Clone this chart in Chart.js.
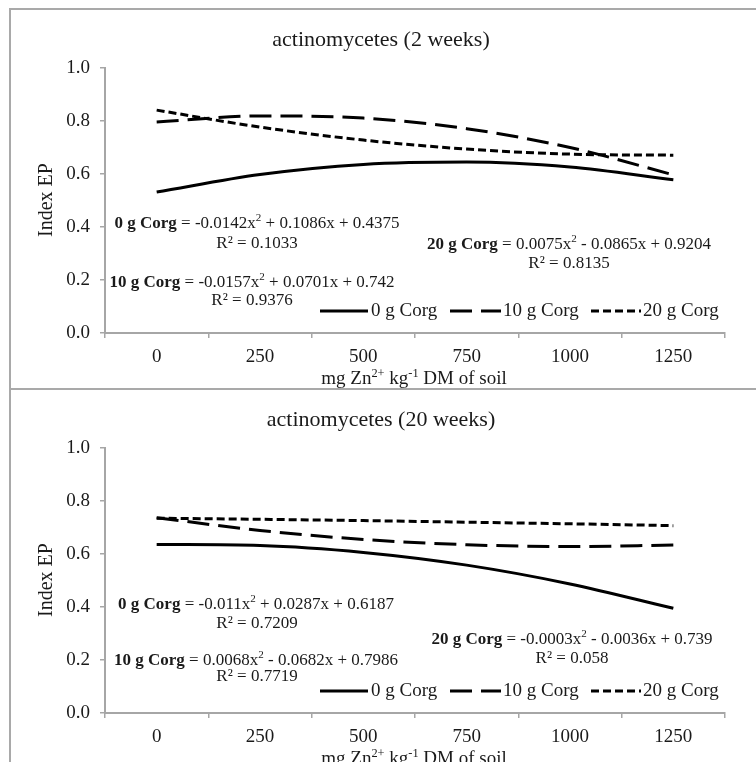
<!DOCTYPE html>
<html>
<head>
<meta charset="utf-8">
<script src="https://cdn.jsdelivr.net/npm/chart.js@4.4.1/dist/chart.umd.min.js"></script>
<style>
  body { margin: 0; background: #fff; overflow: hidden; }
  .panel { position: absolute; left: 9px; width: 747px; height: 378px;
           border-left: 2px solid #a9a9a9; border-top: 2px solid #a9a9a9; }
  #p1 { top: 8px; }
  #p2 { top: 388px; }
  canvas { display: block; }
</style>
</head>
<body>
<div class="panel" id="p1"><canvas id="c1" width="745" height="378"></canvas></div>
<div class="panel" id="p2"><canvas id="c2" width="745" height="378"></canvas></div>

<script>
// doses of zinc, mg Zn2+ per kg DM of soil
const doses = ['0', '250', '500', '750', '1000', '1250'];
const yTicks = [0, 0.2, 0.4, 0.6, 0.8, 1.0];
const seriesNames = ['0 g Corg', '10 g Corg', '20 g Corg'];

// index EP, 2 weeks
const week2Corg0 = [0.532, 0.598, 0.636, 0.645, 0.626, 0.578];
const week2Corg10 = [0.796, 0.819, 0.811, 0.771, 0.700, 0.597];
const week2Corg20 = [0.841, 0.777, 0.728, 0.694, 0.675, 0.671];

// index EP, 20 weeks
const week20Corg0 = [0.636, 0.632, 0.606, 0.558, 0.487, 0.395];
const week20Corg10 = [0.737, 0.689, 0.655, 0.635, 0.628, 0.634];
const week20Corg20 = [0.735, 0.731, 0.726, 0.720, 0.714, 0.707];

// trendline labels
const week2Eqs = [
  '0 g Corg = -0.0142x^2 + 0.1086x + 0.4375', 'R² = 0.1033',
  '10 g Corg = -0.0157x^2 + 0.0701x + 0.742', 'R² = 0.9376',
  '20 g Corg = 0.0075x^2 - 0.0865x + 0.9204', 'R² = 0.8135'
];
const week20Eqs = [
  '0 g Corg = -0.011x^2 + 0.0287x + 0.6187', 'R² = 0.7209',
  '10 g Corg = 0.0068x^2 - 0.0682x + 0.7986', 'R² = 0.7719',
  '20 g Corg = -0.0003x^2 - 0.0036x + 0.739', 'R² = 0.058'
];

const SERIF = "'Liberation Serif', 'Times New Roman', serif";
const TEXT = '#1a1a1a';
const AXIS = '#a6a6a6';
const dashes = [[], [22, 9], [8, 4]];

function fontOf(p, size) {
  const s = p.sup ? size * 0.65 : size;
  return (p.b ? 'bold ' : '') + s + 'px ' + SERIF;
}

// draw a line of mixed text centred at cx, middle at cy
function drawRich(ctx, parts, cx, cy, size) {
  let w = 0;
  parts.forEach(p => { ctx.font = fontOf(p, size); p.w = ctx.measureText(p.t).width; w += p.w; });
  let x = cx - w / 2;
  const base = cy + size * 0.33;
  ctx.textAlign = 'left';
  ctx.textBaseline = 'alphabetic';
  parts.forEach(p => {
    ctx.font = fontOf(p, size);
    ctx.fillText(p.t, x, base - (p.sup ? size * 0.4 : 0));
    x += p.w;
  });
}

function parseEq(str) {
  const parts = [];
  let rest = str;
  const eq = str.indexOf(' = ');
  if (str.startsWith('R')) {
    return [{ t: str }];
  }
  parts.push({ t: str.slice(0, eq), b: true });
  rest = str.slice(eq);
  rest.split('^2').forEach((seg, i) => {
    if (i > 0) parts.push({ t: '2', sup: true });
    parts.push({ t: seg });
  });
  return parts;
}

const overlay = {
  id: 'overlay',
  afterDraw(chart, args, opts) {
    const ctx = chart.ctx;
    ctx.save();
    ctx.fillStyle = TEXT;

    // title
    ctx.font = '22px ' + SERIF;
    ctx.textAlign = 'center';
    ctx.textBaseline = 'middle';
    ctx.fillText(opts.title, 370, 30);

    // y axis title
    ctx.save();
    ctx.translate(36, 190);
    ctx.rotate(-Math.PI / 2);
    ctx.font = '20px ' + SERIF;
    ctx.fillText('Index EP', 0, 0);
    ctx.restore();

    // x axis title
    drawRich(ctx, [{ t: 'mg Zn' }, { t: '2+', sup: true }, { t: ' kg' }, { t: '-1', sup: true }, { t: ' DM of soil' }],
      403, 368, 19);

    // trendline equations
    opts.eqs.forEach((s, i) => {
      const pos = opts.eqPos[i];
      drawRich(ctx, parseEq(s), pos[0], pos[1], 17);
    });

    // legend
    const lg = [[309, 357, 360], [439, 490, 492], [580, 630, 632]];
    const ly = 301;
    lg.forEach((l, i) => {
      ctx.beginPath();
      ctx.setLineDash(dashes[i]);
      ctx.lineWidth = 3;
      ctx.strokeStyle = '#000';
      ctx.moveTo(l[0], ly);
      ctx.lineTo(l[1], ly);
      ctx.stroke();
      ctx.setLineDash([]);
      ctx.font = '19px ' + SERIF;
      ctx.textAlign = 'left';
      ctx.textBaseline = 'middle';
      ctx.fillText(seriesNames[i], l[2], ly);
    });
    ctx.restore();
  }
};

function makeChart(id, data, title, eqs, eqPos) {
  return new Chart(document.getElementById(id), {
    type: 'line',
    data: {
      labels: doses,
      datasets: data.map((d, i) => ({
        label: seriesNames[i],
        data: d,
        borderColor: '#000',
        borderWidth: 3,
        borderDash: dashes[i],
        pointRadius: 0,
        fill: false,
        cubicInterpolationMode: 'monotone'
      }))
    },
    options: {
      responsive: false,
      animation: false,
      layout: { padding: { top: 58, right: 31, left: 0, bottom: 0 } },
      plugins: {
        legend: { display: false },
        tooltip: { enabled: false },
        overlay: { title: title, eqs: eqs, eqPos: eqPos }
      },
      scales: {
        x: {
          type: 'category',
          offset: true,
          grid: { offset: true, drawOnChartArea: false, drawTicks: true, tickLength: 5, color: AXIS, lineWidth: 1.5 },
          border: { display: true, color: AXIS, width: 2 },
          ticks: { color: TEXT, font: { family: SERIF, size: 19 }, padding: 8, maxRotation: 0 },
          afterFit: s => { s.height = 55; }
        },
        y: {
          min: 0,
          max: 1,
          afterBuildTicks: s => { s.ticks = yTicks.map(v => ({ value: v })); },
          grid: { drawOnChartArea: false, drawTicks: true, tickLength: 5, color: AXIS, lineWidth: 1.5 },
          border: { display: true, color: AXIS, width: 2 },
          ticks: { color: TEXT, font: { family: SERIF, size: 19 }, padding: 10, callback: v => v.toFixed(1) },
          afterFit: s => { s.width = 94; }
        }
      }
    },
    plugins: [overlay]
  });
}

makeChart('c1', [week2Corg0, week2Corg10, week2Corg20], 'actinomycetes (2 weeks)', week2Eqs,
  [[246, 212], [246, 232], [241, 271], [241, 289], [558, 233], [558, 252]]);
makeChart('c2', [week20Corg0, week20Corg10, week20Corg20], 'actinomycetes (20 weeks)', week20Eqs,
  [[245, 213], [246, 232], [245, 269], [246, 285], [561, 248], [561, 267]]);
</script>
</body>
</html>
